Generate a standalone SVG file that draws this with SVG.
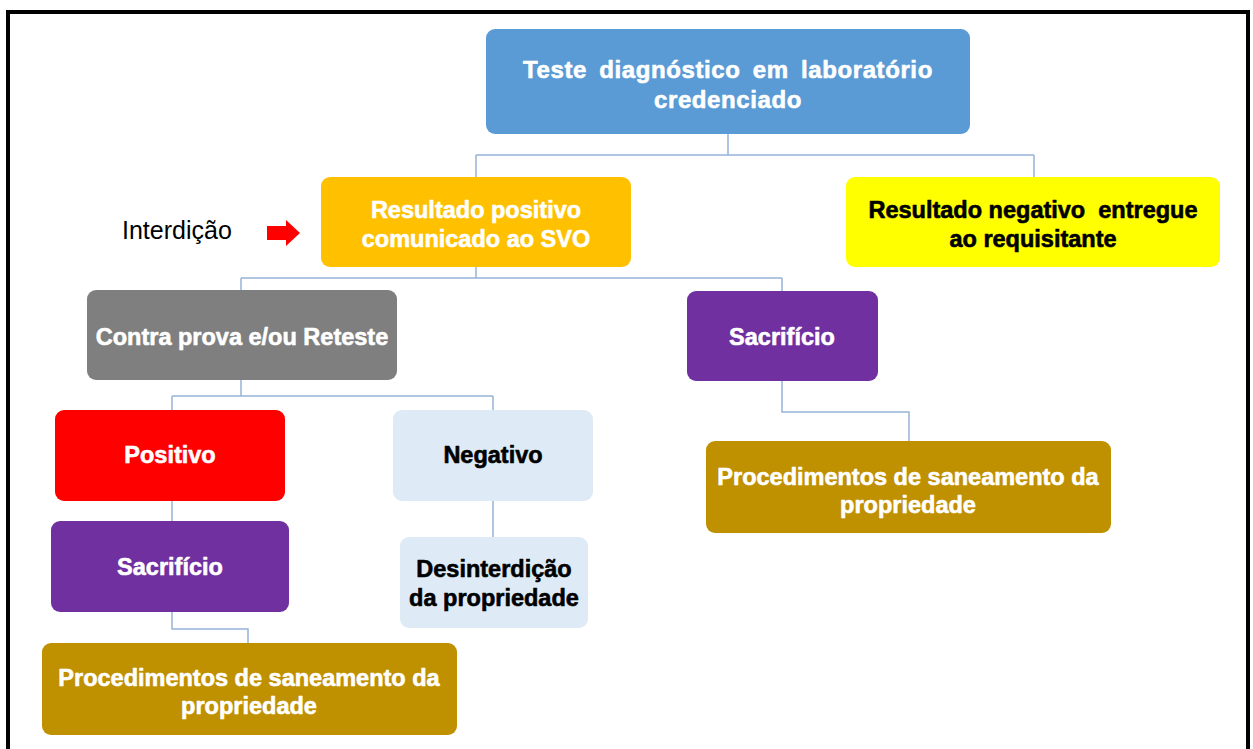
<svg xmlns="http://www.w3.org/2000/svg" width="1253" height="749" viewBox="0 0 1253 749">
<style>
.t{font-family:"Liberation Sans",Arial,sans-serif;font-weight:bold;font-size:23.5px;text-anchor:middle;stroke-width:0.6px;stroke-linejoin:round}
.w{fill:#ffffff;stroke:#ffffff}
.k{fill:#000000;stroke:#000000}
.c{fill:none;stroke:#95B3D7;stroke-width:1.5}
</style>
<rect x="0" y="0" width="1253" height="749" fill="#ffffff"/>
<path d="M8 749 V12 H1248 V749" fill="none" stroke="#000" stroke-width="4"/>
<g id="connectors">
<path class="c" d="M728 134 V155 M476 155 H1034 M476 155 V177 M1034 155 V177"/>
<path class="c" d="M476 267 V278 M241 278 H782 M241 278 V290 M782 278 V291"/>
<path class="c" d="M241 380 V396 M172 396 H493 M172 396 V410 M493 396 V410"/>
<path class="c" d="M172 501 V521"/>
<path class="c" d="M172 612 V629 H248 V643"/>
<path class="c" d="M493 501 V537"/>
<path class="c" d="M782 381 V412 H909 V441"/>
</g>
<g id="n-teste">
<rect x="486" y="29" width="484" height="105" rx="9" fill="#5B9BD5"/>
<text class="t w" x="728" y="78" style="font-size:24px;letter-spacing:0.6px;word-spacing:5px">Teste diagnóstico em laboratório</text>
<text class="t w" x="728" y="108" style="font-size:24px;letter-spacing:0.6px">credenciado</text>
</g>
<g id="n-interdicao">
<text x="122" y="239" style="font-family:'Liberation Sans',Arial,sans-serif;font-size:25px;fill:#000">Interdição</text>
<path d="M267 226 H286 V220 L300 233 L286 246 V240 H267 Z" fill="#FF0000"/>
</g>
<g id="n-positivo-svo">
<rect x="321" y="177" width="310" height="90" rx="9" fill="#FFC000"/>
<text class="t w" x="476" y="218">Resultado positivo</text>
<text class="t w" x="476" y="247">comunicado ao SVO</text>
</g>
<g id="n-negativo-req">
<rect x="846" y="177" width="374" height="90" rx="9" fill="#FFFF00"/>
<text class="t k" x="1033" y="218" style="white-space:pre">Resultado negativo  entregue</text>
<text class="t k" x="1033" y="247">ao requisitante</text>
</g>
<g id="n-contraprova">
<rect x="87" y="290" width="310" height="90" rx="9" fill="#7F7F7F"/>
<text class="t w" x="242" y="345">Contra prova e/ou Reteste</text>
</g>
<g id="n-sacrificio-r">
<rect x="687" y="291" width="191" height="90" rx="9" fill="#7030A0"/>
<text class="t w" x="782" y="345">Sacrifício</text>
</g>
<g id="n-positivo">
<rect x="55" y="410" width="230" height="91" rx="9" fill="#FF0000"/>
<text class="t w" x="170" y="463">Positivo</text>
</g>
<g id="n-negativo">
<rect x="393" y="410" width="200" height="91" rx="9" fill="#DEEBF7"/>
<text class="t k" x="493" y="463">Negativo</text>
</g>
<g id="n-sacrificio-l">
<rect x="51" y="521" width="238" height="91" rx="9" fill="#7030A0"/>
<text class="t w" x="170" y="575">Sacrifício</text>
</g>
<g id="n-desinterdicao">
<rect x="400" y="537" width="188" height="91" rx="9" fill="#DEEBF7"/>
<text class="t k" x="494" y="577">Desinterdição</text>
<text class="t k" x="494" y="606">da propriedade</text>
</g>
<g id="n-saneamento-l">
<rect x="42" y="643" width="415" height="92" rx="9" fill="#BF9000"/>
<text class="t w" x="249" y="686">Procedimentos de saneamento da</text>
<text class="t w" x="249" y="714">propriedade</text>
</g>
<g id="n-saneamento-r">
<rect x="706" y="441" width="405" height="92" rx="9" fill="#BF9000"/>
<text class="t w" x="908" y="485">Procedimentos de saneamento da</text>
<text class="t w" x="908" y="513">propriedade</text>
</g>
</svg>
